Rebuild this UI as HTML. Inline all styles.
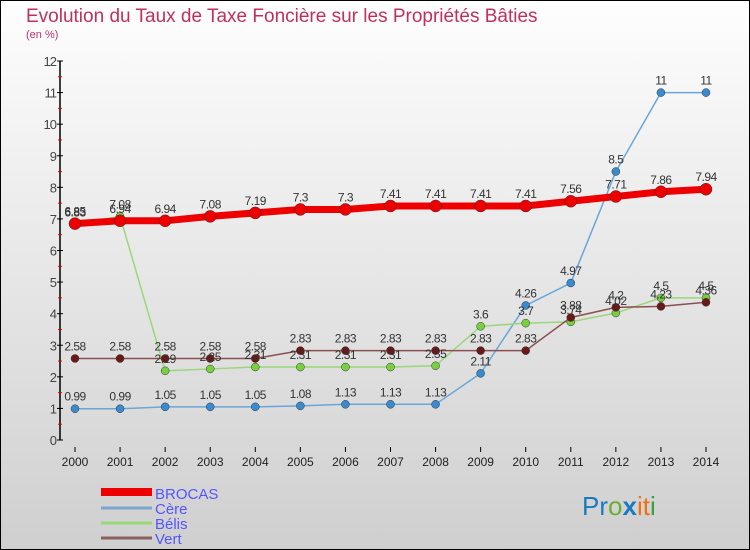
<!DOCTYPE html>
<html><head><meta charset="utf-8"><style>
body{margin:0}
#c{width:750px;height:550px;position:relative;overflow:hidden;font-family:"Liberation Sans",sans-serif;}
</style></head><body>
<div id="c">
<svg width="750" height="550" id="svg">
<defs><linearGradient id="bg" x1="0" y1="0" x2="0" y2="1"><stop offset="0" stop-color="#fefefe"/><stop offset="1" stop-color="#cfcfcf"/></linearGradient></defs>
<rect x="0" y="0" width="750" height="550" fill="url(#bg)" stroke="#000" stroke-width="2"/>
<text x="26" y="22" font-size="19" fill="#c0305a">Evolution du Taux de Taxe Foncière sur les Propriétés Bâties</text>
<text x="26" y="38" font-size="11" fill="#c0306a">(en %)</text>
<g id="axes"></g><g id="series"></g><g id="labels"></g>
<g>
<line x1="101" y1="492" x2="152" y2="492" stroke="#e00" stroke-width="8"/>
<text x="155" y="499" font-size="15" fill="#55f">BROCAS</text>
<line x1="101" y1="508" x2="152" y2="508" stroke="#7aa6cf" stroke-width="3"/>
<text x="155" y="514" font-size="15" fill="#55f">Cère</text>
<line x1="101" y1="523" x2="152" y2="523" stroke="#98d878" stroke-width="3"/>
<text x="155" y="529" font-size="15" fill="#55f">Bélis</text>
<line x1="101" y1="538" x2="152" y2="538" stroke="#8a6060" stroke-width="3"/>
<text x="155" y="544" font-size="15" fill="#55f">Vert</text>
</g>
<text x="582" y="515" font-size="26"><tspan fill="#1a7ac0">Pr</tspan><tspan fill="#6ab030">o</tspan><tspan fill="#1a7ac0" font-weight="bold">x</tspan><tspan fill="#f07010">i</tspan><tspan fill="#f07010">t</tspan><tspan fill="#3aa040">i</tspan></text>
</svg></div>
<script>
const years=[2000,2001,2002,2003,2004,2005,2006,2007,2008,2009,2010,2011,2012,2013,2014];
const brocas=[6.85,6.94,6.94,7.08,7.19,7.3,7.3,7.41,7.41,7.41,7.41,7.56,7.71,7.86,7.94];
const cere=[0.99,0.99,1.05,1.05,1.05,1.08,1.13,1.13,1.13,2.11,4.26,4.97,8.5,11,11];
const belis=[6.83,7.08,2.19,2.25,2.31,2.31,2.31,2.31,2.35,3.6,3.7,3.74,4.02,4.5,4.5];
const vert=[2.58,2.58,2.58,2.58,2.58,2.83,2.83,2.83,2.83,2.83,2.83,3.88,4.2,4.23,4.36];
const yTicks=[0,1,2,3,4,5,6,7,8,9,10,11,12];
const NS="http://www.w3.org/2000/svg";
const X=i=>75+i*(631/14), Y=v=>440-v*(379/12);
function mk(t,a,p){const e=document.createElementNS(NS,t);for(const k in a)e.setAttribute(k,a[k]);p.appendChild(e);return e;}
const ax=document.getElementById('axes');
let l=mk('line',{x1:60,y1:61,x2:60,y2:440,stroke:'#000','stroke-width':1.5},ax);


yTicks.forEach(v=>{
 mk('line',{x1:57,y1:Y(v),x2:63,y2:Y(v),stroke:'#000'},ax);
 if(v<12)mk('line',{x1:58,y1:Y(v+0.5),x2:62,y2:Y(v+0.5),stroke:'#e00'},ax);
 const t=mk('text',{x:56,y:Y(v)+5,'text-anchor':'end','font-size':13,fill:'#444','letter-spacing':'-1'},ax);
 t.textContent=v;
 
 
});
years.forEach((y,i)=>{
 mk('line',{x1:X(i),y1:447,x2:X(i),y2:452,stroke:'#000'},ax);
 const t=mk('text',{x:X(i),y:466,'text-anchor':'middle','font-size':12,fill:'#222'},ax);
 t.textContent=y;
 
 
});
const sg=document.getElementById('series'),lg=document.getElementById('labels');
function draw(arr,name,col,dot,w,r){
 const pl=mk('polyline',{points:arr.map((v,i)=>X(i)+','+Y(v)).join(' '),fill:'none',stroke:col,'stroke-width':w},sg);
 
 
 arr.forEach((v,i)=>{
  const c=mk('circle',{cx:X(i),cy:Y(v),r:r,fill:dot,stroke:'#333','stroke-width':0.5},sg);
  
  
  const t=mk('text',{x:X(i),y:Y(v)-8,'text-anchor':'middle','font-size':12,fill:'#333','letter-spacing':'-0.5'},lg);
  t.textContent=v;
  
  
 });
}
draw(cere,'cere','#6aa6d8','#3a8ad0',1.5,4);
draw(belis,'belis','#98d878','#78d040',1.5,4);
draw(vert,'vert','#8a5050','#6a1818',1.5,4);
draw(brocas,'brocas','#e00','#e00',7,6);
</script>
</body></html>
